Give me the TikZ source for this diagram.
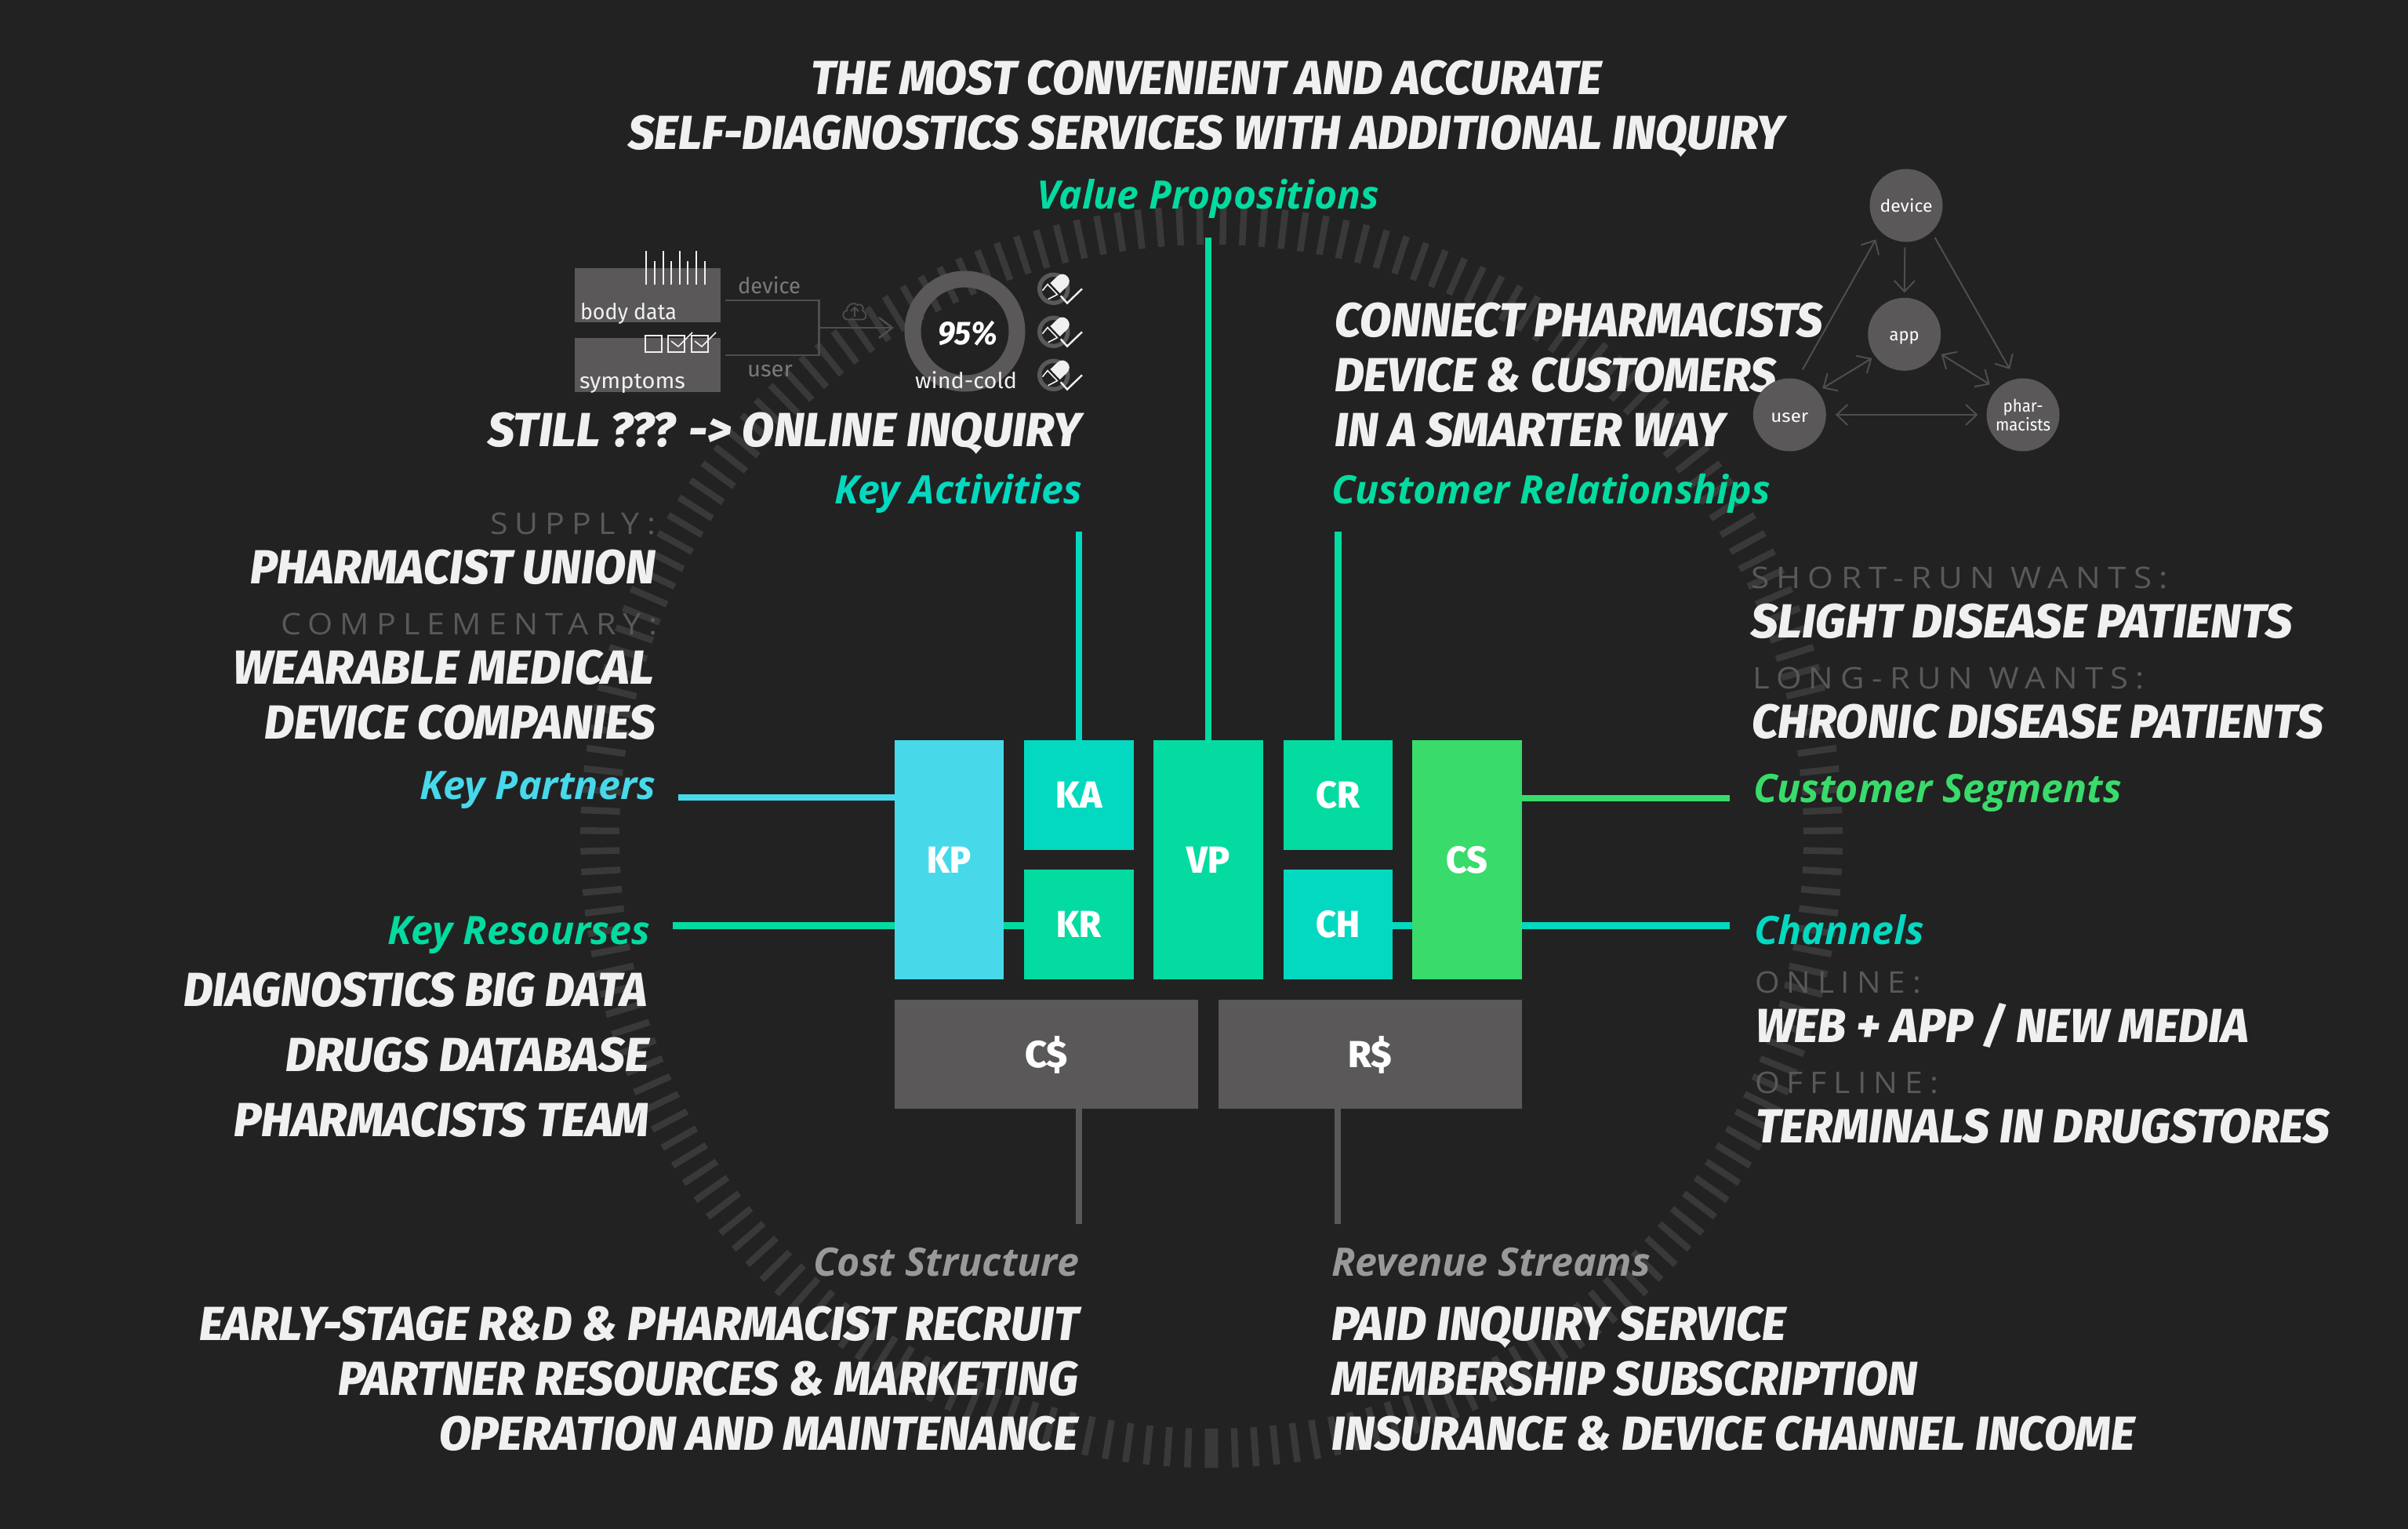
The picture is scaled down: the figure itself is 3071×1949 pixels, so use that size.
\documentclass[tikz,border=0pt]{standalone}
\usepackage{fontspec}
\usepackage{graphicx}
\usetikzlibrary{arrows.meta,calc}
\setmainfont{Fira Sans}
\newfontfamily\heavyf{Fira Sans ExtraBold}[ItalicFont={Fira Sans ExtraBold Italic}]
\newfontfamily\catf{Open Sans}
\newfontfamily\grayf{Open Sans}[LetterSpace=22]
\definecolor{bgc}{HTML}{222222}
\definecolor{tickc}{HTML}{393939}
\definecolor{txtc}{HTML}{F0F0F0}
\definecolor{cKP}{HTML}{47D9EA}
\definecolor{cVP}{HTML}{03DBA0}
\definecolor{cKA}{HTML}{03D9C0}
\definecolor{cCS}{HTML}{39DB6B}
\definecolor{cGrey}{HTML}{5A5859}
\definecolor{cLine}{HTML}{4E4E4E}
\definecolor{cSoft}{HTML}{999999}
\definecolor{cDim}{HTML}{7A7A7A}
\newcommand\fitw[2]{\resizebox{\dimexpr 0.5pt*\numexpr#1\relax\relax}{\height}{#2}}
\newcommand\T[6]{\node[#2,anchor=base west] (#1) at (#3,#5) {\fitw{#4-#3}{#6}};}
\newcommand\pillicon[3]{%
  \begin{scope}[shift={(#1,#2)}]
    \draw[smallring] (0,0) circle[radius=18];
    \fill[txtc] (-4.3,-7.3) -- (4.9,-16.1) .. controls (13.5,-24.4) and (25.8,-11.4) .. (17.2,-3.1) -- (8,5.7) -- cycle;
    \draw[iconline] (-14.3,2.3) -- (-7.7,-5.7) -- (4.7,7.3) -- (-7,13.3);
    \draw[iconline,line width=1.2pt] (9,9) -- (17.3,18.3) -- (36.3,0);
  \end{scope}}
\tikzset{
  hd/.style={inner sep=0,outer sep=0,text=txtc,font=\fontsize{30.5}{36}\selectfont\heavyf\itshape},
  cat/.style={inner sep=0,outer sep=0,text=#1,font=\fontsize{25}{30}\selectfont\catf\bfseries\itshape},
  dim/.style={inner sep=0,outer sep=0,text=cGrey,font=\fontsize{19}{23}\selectfont\grayf},
  lab/.style={inner sep=0,outer sep=0,text=txtc,font=\fontsize{14}{17}\selectfont},
  dimlab/.style={inner sep=0,outer sep=0,text=cDim,font=\fontsize{14}{17}\selectfont},
  bx/.style={rectangle,inner sep=0,outer sep=0,text=white,text height=16.5pt,text depth=0pt,font=\fontsize{24}{28}\selectfont\heavyf},
  circ/.style={circle,fill=cGrey,inner sep=0,outer sep=0,minimum size=46.5pt,text=white,font={\fontsize{11}{12}\selectfont}},
  circt/.style={circ,text height=8pt,text depth=0pt},
  panel/.style={rectangle,fill=cGrey,inner sep=0,outer sep=0,minimum width=92.75pt,minimum height=34.5pt},
  conn/.style={line width=4.2pt},
  tickm/.style={draw=tickc,line width=4.25pt},
  arr/.style={draw=cLine,line width=1pt,-{Straight Barb[length=7pt,width=13pt]}},
  dbl/.style={draw=cLine,line width=1pt,{Straight Barb[length=7pt,width=13pt]}-{Straight Barb[length=7pt,width=13pt]}},
  guide/.style={draw=cLine,line width=1.25pt},
  smallring/.style={draw=cGrey,line width=2.7pt},
  iconline/.style={draw=txtc,line width=.8pt},
}
\begin{document}
\begin{tikzpicture}[x=0.5pt,y=-0.5pt]
\useasboundingbox (0,0) rectangle (3071,1949);
\fill[bgc] (-10,-10) rectangle (3081,1959);
% ring of ticks
\begin{scope}[shift={(1545,1067)}]
  \foreach \k in {0,...,95}{
    \pgfmathsetmacro\aa{90+0.31+1.88*\k}
    \pgfmathsetmacro\ab{90-0.31-1.88*\k}
    \draw[tickm] (\aa:755) -- (\aa:805);
    \draw[tickm] (\ab:755) -- (\ab:805);
  }
\end{scope}
% free connector ends
\coordinate (kaTop) at (1376,678);
\coordinate (vpTop) at (1541,303);
\coordinate (crTop) at (1706,678);
\coordinate (kpEnd) at (865,1017);
\coordinate (krEnd) at (858,1180.5);
\coordinate (csEnd) at (2206,1018);
\coordinate (chEnd) at (2206,1180.5);
\coordinate (cEnd) at (1376,1561);
\coordinate (rEnd) at (1706,1561);
% canvas boxes
\node[bx,fill=cKP,minimum width=69.5pt,minimum height=152.5pt] (KP) at (1210.5,1096.5) {\fitw{56}{KP}};
\node[bx,fill=cKA,minimum width=70pt,minimum height=70pt] (KA) at (1376,1014) {\fitw{59}{KA}};
\node[bx,fill=cVP,minimum width=70pt,minimum height=70pt] (KR) at (1376,1179) {\fitw{57}{KR}};
\node[bx,fill=cVP,minimum width=70pt,minimum height=152.5pt] (VP) at (1541,1096.5) {\fitw{55}{VP}};
\node[bx,fill=cVP,minimum width=69.5pt,minimum height=70pt] (CR) at (1706.5,1014) {\fitw{56}{CR}};
\node[bx,fill=cKA,minimum width=69.5pt,minimum height=70pt] (CH) at (1706.5,1179) {\fitw{56}{CH}};
\node[bx,fill=cCS,minimum width=70pt,minimum height=152.5pt] (CS) at (1871,1096.5) {\fitw{53}{CS}};
\node[bx,fill=cGrey,minimum width=193.5pt,minimum height=69.5pt] (cost) at (1334.5,1344.5) {\fitw{55}{C\$}};
\node[bx,fill=cGrey,minimum width=193.5pt,minimum height=69.5pt] (rev) at (1747.5,1344.5) {\fitw{56}{R\$}};
% connectors
\draw[conn,draw=cKP] (kpEnd) -- (KP.west |- kpEnd);
\draw[conn,draw=cVP] (krEnd) -- (KP.west |- krEnd);
\draw[conn,draw=cVP] (KP.east |- krEnd) -- (KR.west |- krEnd);
\draw[conn,draw=cKA] (KA.north) -- (kaTop);
\draw[conn,draw=cVP] (VP.north) -- (vpTop);
\draw[conn,draw=cVP] (CR.north |- crTop) -- (CR.north);
\draw[conn,draw=cCS] (CS.east |- csEnd) -- (csEnd);
\draw[conn,draw=cKA] (CH.east |- chEnd) -- (CS.west |- chEnd);
\draw[conn,draw=cKA] (CS.east |- chEnd) -- (chEnd);
\draw[conn,draw=cGrey] (cEnd |- cost.south) -- (cEnd);
\draw[conn,draw=cGrey] (rEnd |- rev.south) -- (rEnd);
% headline texts
\T{t1}{hd}{1034}{2043}{120}{THE MOST CONVENIENT AND ACCURATE}
\T{t2}{hd}{801}{2276}{190}{SELF-DIAGNOSTICS SERVICES WITH ADDITIONAL INQUIRY}
\T{vpl}{cat=cVP}{1322}{1759}{266}{Value Propositions}
\T{cr1}{hd}{1702}{2325}{429}{CONNECT PHARMACISTS}
\T{cr2}{hd}{1702}{2266}{499}{DEVICE \& CUSTOMERS}
\T{cr3}{hd}{1702}{2200}{569}{IN A SMARTER WAY}
\T{crl}{cat=cVP}{1698}{2258}{642}{Customer Relationships}
\T{ka1}{hd}{622}{1379}{569}{STILL ??? -> ONLINE INQUIRY}
\T{kal}{cat=cKA}{1064}{1380}{642}{Key Activities}
\T{kp0}{dim}{625}{836}{681}{SUPPLY:}
\T{kp1}{hd}{319}{836}{744}{PHARMACIST UNION}
\T{kp2}{dim}{358}{838}{809}{COMPLEMENTARY:}
\T{kp3}{hd}{297}{834}{872}{WEARABLE MEDICAL}
\T{kp4}{hd}{337}{836}{942}{DEVICE COMPANIES}
\T{kpl}{cat=cKP}{535}{836}{1019}{Key Partners}
\T{krl}{cat=cVP}{494}{829}{1204}{Key Resourses}
\T{kr1}{hd}{234}{825}{1283}{DIAGNOSTICS BIG DATA}
\T{kr2}{hd}{364}{828}{1366}{DRUGS DATABASE}
\T{kr3}{hd}{298}{828}{1449}{PHARMACISTS TEAM}
\T{csl}{cat=cSoft}{1037}{1376}{1627}{Cost Structure}
\T{c1}{hd}{254}{1376}{1709}{EARLY-STAGE R\&D \& PHARMACIST RECRUIT}
\T{c2}{hd}{431}{1375}{1779}{PARTNER RESOURCES \& MARKETING}
\T{c3}{hd}{560}{1375}{1849}{OPERATION AND MAINTENANCE}
\T{rsl}{cat=cSoft}{1698}{2105}{1627}{Revenue Streams}
\T{r1}{hd}{1698}{2278}{1709}{PAID INQUIRY SERVICE}
\T{r2}{hd}{1698}{2446}{1779}{MEMBERSHIP SUBSCRIPTION}
\T{r3}{hd}{1698}{2723}{1849}{INSURANCE \& DEVICE CHANNEL INCOME}
\T{cs0}{dim}{2233}{2765}{750}{SHORT-RUN WANTS:}
\T{cs1}{hd}{2233}{2924}{813}{SLIGHT DISEASE PATIENTS}
\T{cs2}{dim}{2235}{2735}{878}{LONG-RUN WANTS:}
\T{cs3}{hd}{2234}{2963}{941}{CHRONIC DISEASE PATIENTS}
\T{csg}{cat=cCS}{2236}{2706}{1023}{Customer Segments}
\T{chl}{cat=cKA}{2237}{2454}{1204}{Channels}
\T{ch0}{dim}{2238}{2450}{1266}{ONLINE:}
\T{ch1}{hd}{2239}{2868}{1329}{WEB + APP / NEW MEDIA}
\T{ch2}{dim}{2238}{2472}{1394}{OFFLINE:}
\T{ch3}{hd}{2239}{2971}{1457}{TERMINALS IN DRUGSTORES}
% triangle diagram
\node[circt] (device) at (2431,262) {\fitw{67}{device}\hspace{2pt}};
\node[circt] (app) at (2428.7,426.3) {\fitw{38}{app}\hspace{3pt}};
\node[circt,text height=9pt] (user) at (2282.3,529) {\fitw{48}{user}\hspace{2pt}};
\node[circ,align=center] (pharm) at (2580,529) {\fitw{51}{phar-}\hspace{2pt}\\\fitw{70}{macists}\hspace{2pt}};
\draw[arr,shorten <=7pt,shorten >=6pt] (user.78.5) -- (device.225.7);
\draw[arr,shorten <=3.5pt,shorten >=3.2pt] (device.268) -- (app.90);
\draw[arr,shorten <=4.3pt,shorten >=7.3pt] (device.314) -- (pharm.102.6);
\draw[dbl,shorten <=3.7pt,shorten >=2.5pt] (user.40.5) -- (app.217);
\draw[dbl,shorten <=3.5pt,shorten >=5.5pt] (app.332) -- (pharm.135);
\draw[dbl,shorten <=6pt,shorten >=5.5pt] (user.0) -- (pharm.180);
% inquiry sketch
\node[panel] (body) at (825.75,376.5) {};
\node[panel] (sympt) at (825.75,465.5) {};
\T{bodyl}{lab}{740}{863}{407}{body data}
\T{symptl}{lab}{739}{874}{495}{symptoms}
\foreach \x/\t in {824/320,834.5/333,845.5/320,856/333,867/320,877/333,888/320,899/333}
  \draw[draw=txtc,line width=1pt] (\x,\t) -- (\x,363);
\foreach \x in {823,852,882}
  \draw[iconline] (\x,428) rectangle ++(21,21);
\draw[iconline] (856,435) -- (865,442) -- (883,424);
\draw[iconline] (886,435) -- (895,442) -- (913,424);
\T{devl}{dimlab}{941}{1021}{374}{device}
\T{usrl}{dimlab}{953}{1011}{480}{user}
\coordinate (devS) at (925,383);
\coordinate (usrS) at (925,453);
\coordinate (devC) at (1044.5,383);
\coordinate (usrC) at (1044.5,453);
\coordinate (jn) at (1044.5,418);
\node[circle,draw=cGrey,line width=10.5pt,minimum size=66.5pt,inner sep=0,outer sep=0,text=white,font=\fontsize{21}{25}\selectfont\bfseries\itshape,text height=16.5pt,text depth=0pt] (donut) at (1230.5,422.5) {\hspace{3.5pt}\fitw{76}{95\%}};
\draw[guide] (devS) -- (devC) -- (usrC) -- (usrS);
\draw[guide,-{Straight Barb[length=8.5pt,width=13pt]},shorten >=-1pt] (jn) -- (1138,418);
\draw[draw=cLine,line width=.9pt] (1081,407.5) .. controls (1074,407.5) and (1073,397) .. (1080,396) .. controls (1080,389) and (1088,384) .. (1093,389) .. controls (1098,386) and (1103,392) .. (1100,396) .. controls (1106,398) and (1106,407.5) .. (1100,407.5) -- cycle;
\draw[draw=cLine,line width=.9pt] (1090,404) -- (1090,393) (1085,397) -- (1090,392) -- (1095,397);
\T{windl}{lab}{1167}{1297}{495}{wind-cold}
\pillicon{1343.7}{368.3}{}
\pillicon{1343.7}{423.3}{}
\pillicon{1343.7}{478.3}{}
\end{tikzpicture}
\end{document}
